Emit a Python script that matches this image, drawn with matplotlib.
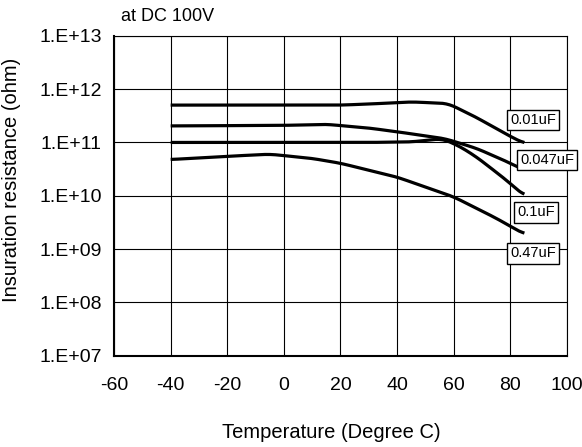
import matplotlib.pyplot as plt
import numpy as np

plt.rcParams["font.family"] = ["Liberation Sans", "DejaVu Sans"]

# values as log10(ohm)
temp_001 = [-40, 0, 20, 30, 45, 58, 68, 78, 85]
log_001 = [11.70, 11.70, 11.70, 11.72, 11.76, 11.73, 11.47, 11.17, 10.98]

temp_0047 = [-40, 0, 15, 30, 40, 57, 68, 78, 85]
log_0047 = [11.31, 11.32, 11.34, 11.27, 11.20, 11.07, 10.89, 10.66, 10.48]

temp_01 = [-40, 0, 30, 45, 56, 62, 68, 78, 85]
log_01 = [11.0, 11.0, 11.0, 11.01, 11.07, 10.93, 10.73, 10.32, 10.0]

temp_047 = [-40, -20, -5, 10, 20, 40, 60, 75, 85]
log_047 = [10.68, 10.74, 10.78, 10.70, 10.61, 10.35, 9.98, 9.58, 9.28]

series = [
    ("0.01uF", temp_001, log_001, (88, 11.42)),
    ("0.047uF", temp_0047, log_0047, (93, 10.67)),
    ("0.1uF", temp_01, log_01, (89, 9.69)),
    ("0.47uF", temp_047, log_047, (88, 8.92)),
]

x_ticks = [-60, -40, -20, 0, 20, 40, 60, 80, 100]
y_exps = [7, 8, 9, 10, 11, 12, 13]
y_labels = [f"1.E+{e:02d}" for e in y_exps]

W, H = 582, 447
fig = plt.figure(figsize=(W / 100, H / 100), dpi=100)
ax = fig.add_axes([0.196, 0.204, 0.778, 0.716])

for name, t, lg, (lx, ly) in series:
    # smooth the hand-read points a bit
    tt = np.linspace(t[0], t[-1], 200)
    yy = np.interp(tt, t, lg)
    k = 9
    yy_s = np.convolve(np.pad(yy, k // 2, mode="edge"), np.ones(k) / k, mode="valid")
    ax.plot(tt, 10 ** yy_s, color="black", lw=2.3, solid_capstyle="butt")
    ax.text(lx, 10 ** ly, name, fontsize=10.5, ha="center", va="center",
            bbox=dict(boxstyle="square,pad=0.22", fc="white", ec="black", lw=1),
            zorder=5, clip_on=False)

ax.set_yscale("log")
ax.set_xlim(-60, 100)
ax.set_ylim(1e7, 1e13)
ax.set_xticks(x_ticks)
ax.set_xticklabels([str(v) for v in x_ticks], fontsize=14)
ax.set_yticks([10.0 ** e for e in y_exps])
ax.set_yticklabels(y_labels, fontsize=14)
ax.minorticks_off()
ax.tick_params(axis="y", length=0, pad=9)
ax.tick_params(axis="x", length=0, pad=15)
ax.grid(True, color="black", lw=0.8)

for s in ax.spines.values():
    s.set_linewidth(0.8)
ax.spines["left"].set_linewidth(1.5)
ax.spines["bottom"].set_linewidth(1.5)

fig.text(331 / W, 1 - 433 / H, "Temperature (Degree C)", fontsize=14.5,
         ha="center", va="center")
fig.text(12 / W, 1 - 180 / H, "Insuration resistance (ohm)", fontsize=14.5,
         ha="center", va="center", rotation=90)
ax.text(-57.5, 2.25e13, "at DC 100V", fontsize=13, ha="left", va="center")

fig.savefig("out.png", dpi=100)
